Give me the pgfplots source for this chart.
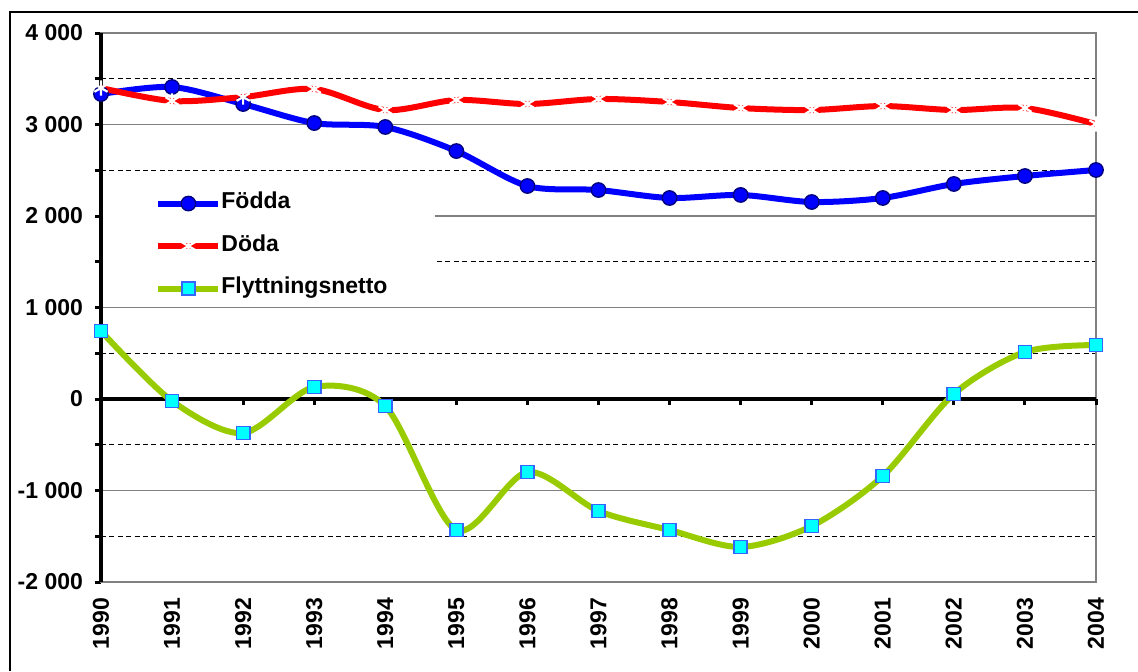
\documentclass[border=0pt]{standalone}
\usepackage{pgfplots}
\pgfplotsset{compat=1.18}
\usepackage{fontspec}
\setmainfont{Liberation Sans}
\definecolor{fodda}{RGB}{0,0,255}
\definecolor{foddaedge}{RGB}{0,0,128}
\definecolor{doda}{RGB}{255,0,0}
\definecolor{flytt}{RGB}{153,204,0}
\definecolor{flyttfill}{RGB}{0,255,255}
\definecolor{flyttedge}{RGB}{51,102,255}
\definecolor{gridgray}{RGB}{128,128,128}
\pgfplotstableread{
year fodda doda flytt
1990 3333 3399 743
1991 3410 3257 -22
1992 3224 3300 -372
1993 3016 3388 131
1994 2973 3158 -77
1995 2710 3268 -1432
1996 2328 3224 -798
1997 2284 3279 -1224
1998 2197 3246 -1432
1999 2230 3180 -1617
2000 2153 3158 -1388
2001 2197 3202 -842
2002 2350 3158 55
2003 2437 3180 514
2004 2503 3005 590
}\datatable
\begin{document}
\begin{tikzpicture}[font=\bfseries\fontsize{11.5}{13}\selectfont]
\useasboundingbox (0,0) rectangle (569pt,335.5pt);
\draw[black,line width=0.7pt] (5pt,0) -- (5pt,329.5pt) -- (569pt,329.5pt);
\begin{axis}[
  at={(50.5pt,44.5pt)}, anchor=south west,
  scale only axis, width=497.5pt, height=274.5pt,
  xmin=1990, xmax=2004, ymin=-2000, ymax=4000,
  xtick={1990,...,2004},
  xticklabels={1990,1991,1992,1993,1994,1995,1996,1997,1998,1999,2000,2001,2002,2003,2004},
  ytick={-2000,-1000,0,1000,2000,3000,4000},
  yticklabels={-2 000,-1 000,0,1 000,2 000,3 000,4 000},
  minor ytick={-1500,-500,500,1500,2500,3500},
  xtick pos=bottom, ytick pos=left,
  tick align=outside,
  major tick length=3pt, minor tick length=3pt,
  x tick style={draw=none},
  y tick style={black,line width=1.5pt},
  minor y tick style={black,line width=1.5pt},
  xticklabel style={yshift=-1.5pt,rotate=90,anchor=east,font=\bfseries\fontsize{11.5}{13}\selectfont},
  yticklabel style={xshift=-2.5pt,font=\bfseries\fontsize{11.5}{13}\selectfont},
  ymajorgrids, yminorgrids,
  major grid style={gridgray,line width=0.6pt},
  minor grid style={black,line width=0.5pt,dash pattern=on 2.5pt off 1.7pt},
  axis line style={gridgray,line width=1pt},
  clip=false,
  legend style={at={(axis cs:1990.76,2250)},anchor=north west,draw=none,fill=none,
    inner sep=0pt,row sep=11.25pt,
    nodes={inner sep=0pt,text height=7.5pt,text depth=2.5pt,font=\bfseries\fontsize{11.5}{13}\selectfont},
    legend cell align=left},
  legend image code/.code={\draw[#1,mark repeat=2,mark phase=2] plot coordinates {(0pt,0pt) (15pt,0pt) (30pt,0pt)};},
]
\fill[white] (axis cs:1990.03,2481) rectangle (axis cs:1994.70,1049);
\draw[black,line width=1.6pt] (rel axis cs:0,0) -- (rel axis cs:0,1);
\draw[black,line width=1.6pt] (axis cs:1990,0) -- (axis cs:2004,0);
\pgfplotsinvokeforeach{1990,...,2004}{\draw[black,line width=1.5pt] (axis cs:#1,0) -- ++(0pt,-3pt);}
\addplot[fodda,line width=3pt,smooth,mark=*,mark size=3.6pt,mark options={fill=fodda,draw=foddaedge,line width=0.7pt}] table[x=year,y=fodda]{\datatable};
\addlegendentry{Födda}
\addplot[doda,line width=3pt,smooth,mark=asterisk,mark size=3.8pt,mark options={draw=white,line width=1.1pt}] table[x=year,y=doda]{\datatable};
\addlegendentry{Döda}
\addplot[flytt,line width=3pt,smooth,mark=square*,mark size=3.3pt,mark options={fill=flyttfill,draw=flyttedge,line width=0.8pt}] table[x=year,y=flytt]{\datatable};
\addlegendentry{Flyttningsnetto}
\end{axis}
\end{tikzpicture}
\end{document}
